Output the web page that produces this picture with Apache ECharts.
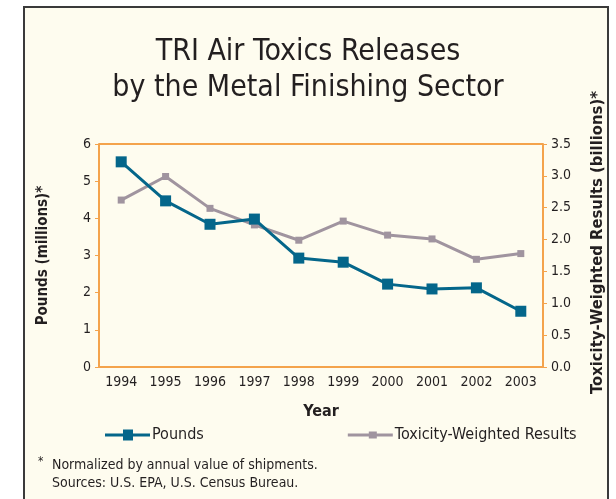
<!DOCTYPE html>
<html>
<head>
<meta charset="utf-8">
<script src="https://cdn.jsdelivr.net/npm/echarts@6/dist/echarts.min.js"></script>
<style>
  html, body { margin: 0; padding: 0; background: #fff; }
  #main { width: 616px; height: 499px; }
</style>
</head>
<body>
<div id="main"></div>
<script>
// data
var years = ['1994', '1995', '1996', '1997', '1998', '1999', '2000', '2001', '2002', '2003'];
var pounds = [5.52, 4.47, 3.84, 3.98, 2.93, 2.82, 2.23, 2.10, 2.13, 1.50];
var toxicity = [2.62, 2.99, 2.49, 2.23, 1.99, 2.29, 2.07, 2.01, 1.69, 1.78];
var leftTicks = [0, 6, 1];
var rightTicks = [0, 3.5, 0.5];

var font = '"Liberation Sans Narrow", "DejaVu Sans Condensed", sans-serif';
var orange = '#f4a34c';
var blue = '#04668a';
var grey = '#a0949f';
var ink = '#231f20';

const myChart = echarts.init(document.getElementById('main'));
var option = {
  backgroundColor: '#ffffff',
  textStyle: { fontFamily: font },
  graphic: {
    elements: [
      {
        type: 'rect',
        shape: { x: 24, y: 7, width: 584, height: 510 },
        style: { fill: '#fefcef', stroke: '#3a3a3a', lineWidth: 2 },
        z: -10
      },
      {
        type: 'text', left: 'center', top: 34,
        style: {
          text: 'TRI Air Toxics Releases\nby the Metal Finishing Sector',
          font: '30px ' + font, fill: ink, textAlign: 'center', lineHeight: 36
        }
      },
      {
        type: 'text', left: 38, top: 456,
        style: { text: '*', font: '12px ' + font, fill: ink }
      },
      {
        type: 'text', left: 52, top: 456,
        style: {
          text: 'Normalized by annual value of shipments.\nSources: U.S. EPA, U.S. Census Bureau.',
          font: '14px ' + font, fill: ink, lineHeight: 18
        }
      }
    ]
  },
  grid: { left: 99, right: 73, top: 144, bottom: 132 },
  legend: {
    bottom: 51,
    left: 100,
    itemGap: 144,
    itemWidth: 45,
    itemHeight: 11,
    textStyle: { fontSize: 16, color: ink, fontFamily: font, padding: [0, 0, 0, -3] },
    data: [
      { name: 'Pounds', icon: 'path://M0,4 H45 V7 H0 Z M18,0 H28 V11 H18 Z' },
      { name: 'Toxicity-Weighted Results', icon: 'path://M0,2 H45 V5 H0 Z M21,0 H29 V7 H21 Z' }
    ]
  },
  xAxis: {
    type: 'category',
    data: years,
    name: 'Year',
    nameLocation: 'middle',
    nameGap: 37,
    nameTextStyle: { fontSize: 16, fontWeight: 'bold', color: ink },
    axisLine: { lineStyle: { color: orange, width: 2 } },
    axisTick: { show: false },
    axisLabel: { color: ink, fontSize: 14, margin: 8 }
  },
  yAxis: [
    {
      type: 'value',
      min: leftTicks[0], max: leftTicks[1], interval: leftTicks[2],
      name: 'Pounds (millions)*',
      nameLocation: 'middle',
      nameGap: 48,
      nameTextStyle: { fontSize: 15, fontWeight: 'bold', color: ink },
      axisLine: { show: true, lineStyle: { color: orange, width: 2 } },
      axisTick: { show: true, length: 4, lineStyle: { color: orange } },
      axisLabel: { color: ink, fontSize: 14, margin: 8 },
      splitLine: { show: false }
    },
    {
      type: 'value',
      min: rightTicks[0], max: rightTicks[1], interval: rightTicks[2],
      name: 'Toxicity-Weighted Results (billions)*',
      nameLocation: 'middle',
      nameGap: 46,
      nameTextStyle: { fontSize: 16.5, fontWeight: 'bold', color: ink, padding: [0, 0, 0, 26] },
      axisLine: { show: true, lineStyle: { color: orange, width: 2 } },
      axisTick: { show: true, length: 4, lineStyle: { color: orange } },
      axisLabel: {
        color: ink, fontSize: 14, margin: 8,
        formatter: function (v) { return v.toFixed(1); }
      },
      splitLine: { show: false }
    }
  ],
  series: [
    {
      name: 'Toxicity-Weighted Results',
      type: 'line',
      yAxisIndex: 1,
      data: toxicity,
      symbol: 'rect',
      symbolSize: 7,
      lineStyle: { color: grey, width: 3 },
      itemStyle: { color: grey },
      z: 2
    },
    {
      name: 'Pounds',
      type: 'line',
      yAxisIndex: 0,
      data: pounds,
      symbol: 'rect',
      symbolSize: 11,
      lineStyle: { color: blue, width: 3 },
      itemStyle: { color: blue },
      z: 3,
      markLine: {
        silent: true,
        symbol: 'none',
        label: { show: false },
        lineStyle: { color: orange, width: 2, type: 'solid' },
        data: [{ yAxis: leftTicks[1] }]
      }
    }
  ],
  animation: false
};
myChart.setOption(option);
</script>
</body>
</html>
